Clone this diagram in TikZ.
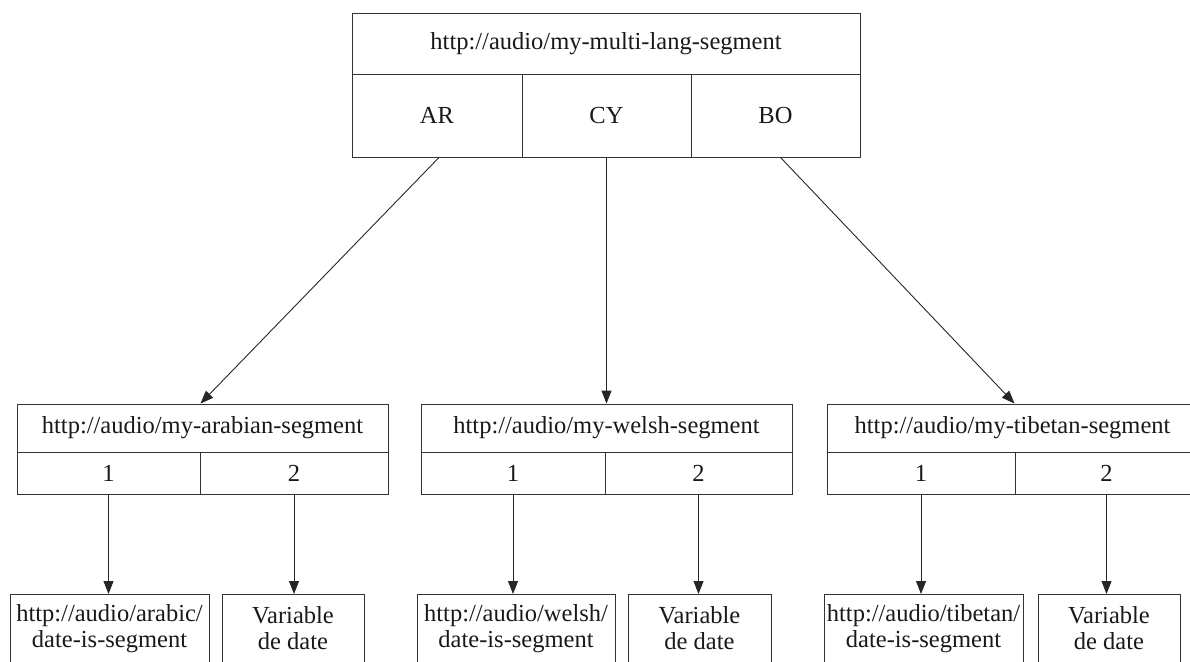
\documentclass[tikz,border=0pt]{standalone}
\usepackage{fontspec}
\setmainfont{Liberation Serif}
\usetikzlibrary{arrows.meta}
\tikzset{
  cell/.style={draw=black!80, line width=0.9pt, rectangle, inner sep=0pt,
    font=\fontsize{24.5}{26}\selectfont, text=black!90},
  leaf/.style={cell, align=center, anchor=north},
  link/.style={draw=black!85, line width=0.9pt,
    -{Triangle[length=13pt,width=10pt]}},
}
\begin{document}
\begin{tikzpicture}[x=1pt,y=-1pt]
\useasboundingbox (0,0) rectangle (1190,661);
\clip (0,0) rectangle (1190,661);

% root segment
\node[cell, minimum width=508, minimum height=61] (root) at (606,43.5) {http://audio/my-multi-lang-segment};
\node[cell, minimum width=170, minimum height=83] (ar) at (437,115.5) {AR};
\node[cell, minimum width=169, minimum height=83] (cy) at (606.5,115.5) {CY};
\node[cell, minimum width=169, minimum height=83] (bo) at (775.5,115.5) {BO};

% arabian
\node[cell, minimum width=371, minimum height=48] (lh) at (202.5,428) {http://audio/my-arabian-segment};
\node[cell, minimum width=183, minimum height=42] (l1) at (108.5,473) {1};
\node[cell, minimum width=188, minimum height=42] (l2) at (294,473) {2};
\node[leaf, minimum width=199, minimum height=68] (la) at (109.5,594) {http://audio/arabic/\\date-is-segment};
\node[leaf, minimum width=142, minimum height=68] (lb) at (293,594) {Variable\\de date};

% welsh
\node[cell, minimum width=371, minimum height=48] (mh) at (606.5,428) {http://audio/my-welsh-segment};
\node[cell, minimum width=184, minimum height=42] (m1) at (513,473) {1};
\node[cell, minimum width=187, minimum height=42] (m2) at (698.5,473) {2};
\node[leaf, minimum width=198, minimum height=68] (ma) at (516,594) {http://audio/welsh/\\date-is-segment};
\node[leaf, minimum width=143, minimum height=68] (mb) at (699.5,594) {Variable\\de date};

% tibetan
\node[cell, minimum width=371, minimum height=48] (rh) at (1012.5,428) {http://audio/my-tibetan-segment};
\node[cell, minimum width=188, minimum height=42] (r1) at (921,473) {1};
\node[cell, minimum width=183, minimum height=42] (r2) at (1106.5,473) {2};
\node[leaf, minimum width=199, minimum height=68] (ra) at (923.5,594) {http://audio/tibetan/\\date-is-segment};
\node[leaf, minimum width=142, minimum height=68] (rb) at (1109,594) {Variable\\de date};

% language links
\draw[link] ([xshift=2]ar.south) -- ([xshift=-2]lh.north);
\draw[link] (cy.south) -- (mh.north);
\draw[link] ([xshift=5]bo.south) -- ([xshift=2]rh.north);

% part links
\draw[link] (l1.south) -- (l1.south |- la.north);
\draw[link] (l2.south) -- (l2.south |- lb.north);
\draw[link] (m1.south) -- (m1.south |- ma.north);
\draw[link] (m2.south) -- (m2.south |- mb.north);
\draw[link] (r1.south) -- (r1.south |- ra.north);
\draw[link] (r2.south) -- (r2.south |- rb.north);
\end{tikzpicture}
\end{document}
